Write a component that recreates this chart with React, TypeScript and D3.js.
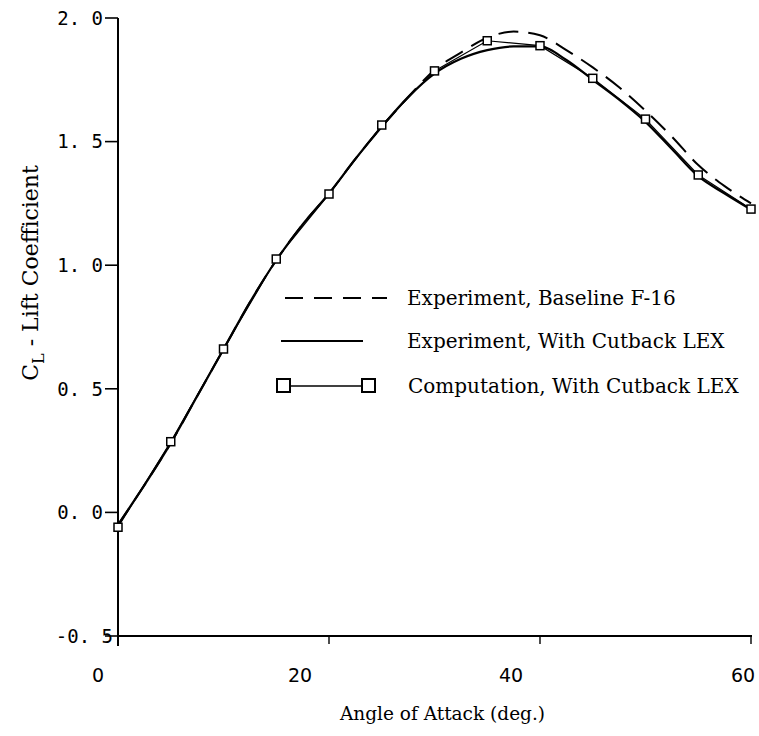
import React from "react";
import * as d3 from "d3";

const W = 759;
const H = 736;

// Computation, With Cutback LEX (square markers)
const compAlpha = [0, 5, 10, 15, 20, 25, 30, 35, 40, 45, 50, 55, 60];
const compCL = [-0.06, 0.286, 0.661, 1.025, 1.288, 1.567, 1.786, 1.908, 1.888, 1.756, 1.591, 1.365, 1.227];

// Experiment, With Cutback LEX (solid)
const expAlpha = [0, 2.5, 5, 7.5, 10, 12.5, 15, 17.5, 20, 22.5, 25, 27.5, 30, 32.5, 35, 37.5, 40, 42.5, 45, 47.5, 50, 52.5, 55, 57.5, 60];
const expCutCL = [-0.05, 0.11, 0.28, 0.47, 0.66, 0.85, 1.02, 1.165, 1.29, 1.43, 1.56, 1.68, 1.775, 1.835, 1.87, 1.885, 1.885, 1.83, 1.75, 1.67, 1.58, 1.47, 1.36, 1.29, 1.225];

// Experiment, Baseline F-16 (dashed)
const expBaseCL = [-0.05, 0.11, 0.28, 0.47, 0.66, 0.85, 1.02, 1.165, 1.29, 1.43, 1.56, 1.68, 1.79, 1.86, 1.92, 1.945, 1.93, 1.87, 1.8, 1.72, 1.625, 1.52, 1.405, 1.32, 1.25];

const yTicks = [2.0, 1.5, 1.0, 0.5, 0.0, -0.5];
const yTickLabels = ["2. 0", "1. 5", "1. 0", "0. 5", "0. 0", "-0. 5"];
const xTicks = [0, 20, 40, 60];
const xTickLabels = ["0", "20", "40", "60"];

const legendLabels = [
  "Experiment, Baseline F-16",
  "Experiment, With Cutback LEX",
  "Computation, With Cutback LEX",
];

export default function App() {
  const x = d3.scaleLinear().domain([0, 60]).range([118, 751]);
  const y = d3.scaleLinear().domain([-0.5, 2.0]).range([636, 18]);

  const solidPath = d3
    .line<number>()
    .x((_, i) => x(expAlpha[i]))
    .y((v) => y(v))
    .curve(d3.curveMonotoneX)(expCutCL) as string;
  const dashedPath = d3
    .line<number>()
    .x((_, i) => x(expAlpha[i]))
    .y((v) => y(v))
    .curve(d3.curveMonotoneX)(expBaseCL) as string;
  const compPath = d3
    .line<number>()
    .x((_, i) => x(compAlpha[i]))
    .y((v) => y(v))(compCL) as string;

  const x0 = x(0);
  const x1 = x(60);
  const yBottom = y(-0.5);
  const yTop = y(2.0);
  const xLabelDx = [-20, -29, -29, -8];

  const serif = "'DejaVu Serif', serif";
  const mono = "'DejaVu Sans Mono', monospace";

  return (
    <svg
      width={W}
      height={H}
      style={{ position: "absolute", left: 0, top: 0, background: "#fff" }}
      viewBox={`0 0 ${W} ${H}`}
    >
      <rect x={0} y={0} width={W} height={H} fill="#fff" />
      {/* axes */}
      <line x1={x0} y1={yTop} x2={x0} y2={yBottom + 10} stroke="#000" strokeWidth={2} />
      <line x1={x0} y1={yBottom} x2={x1 + 1} y2={yBottom} stroke="#000" strokeWidth={2.2} />
      {yTicks.map((t, i) => (
        <g key={"yt" + i}>
          <line x1={x0 - 13} x2={x0} y1={y(t)} y2={y(t)} stroke="#000" strokeWidth={1.6} />
          <text
            x={x0 - 15 + (t === -0.5 ? 10 : 0)}
            y={y(t)}
            dy="0.36em"
            textAnchor="end"
            fontFamily={mono}
            fontSize={19}
            fill="#000"
          >
            {yTickLabels[i]}
          </text>
        </g>
      ))}
      {xTicks.map((t, i) => (
        <g key={"xt" + i}>
          {t > 0 && (
            <line x1={x(t)} x2={x(t)} y1={yBottom} y2={yBottom + 8} stroke="#000" strokeWidth={1.4} />
          )}
          <text
            x={x(t) + xLabelDx[i]}
            y={yBottom + 46}
            textAnchor="middle"
            fontFamily="'DejaVu Sans', sans-serif"
            fontSize={19}
            fill="#000"
          >
            {xTickLabels[i]}
          </text>
        </g>
      ))}

      {/* curves */}
      <path d={dashedPath} fill="none" stroke="#000" strokeWidth={2} strokeDasharray="20 10" />
      <path d={solidPath} fill="none" stroke="#000" strokeWidth={2.2} />
      <path d={compPath} fill="none" stroke="#000" strokeWidth={1.2} />
      {compCL.map((v, i) => (
        <rect
          key={"m" + i}
          x={x(compAlpha[i]) - 4}
          y={y(v) - 4}
          width={8}
          height={8}
          fill="#fff"
          stroke="#000"
          strokeWidth={1.5}
        />
      ))}

      {/* legend */}
      <g fontFamily={serif} fontSize={20} fill="#000">
        <line x1={285} x2={387} y1={298} y2={298} stroke="#000" strokeWidth={2.2} strokeDasharray="18 11" />
        <text x={407} y={305}>{legendLabels[0]}</text>
        <line x1={281} x2={363} y1={341} y2={341} stroke="#000" strokeWidth={2.2} />
        <text x={407} y={348}>{legendLabels[1]}</text>
        <line x1={283} x2={369} y1={386} y2={386} stroke="#000" strokeWidth={1.4} />
        <rect x={277} y={379} width={13} height={13} fill="#fff" stroke="#000" strokeWidth={2} />
        <rect x={362} y={379} width={13} height={13} fill="#fff" stroke="#000" strokeWidth={2} />
        <text x={408} y={393}>{legendLabels[2]}</text>
      </g>

      {/* axis titles */}
      <text
        x={(x0 + x1) / 2 + 8}
        y={720}
        textAnchor="middle"
        fontFamily={serif}
        fontSize={18.5}
        fill="#000"
      >
        Angle of Attack (deg.)
      </text>
      <text
        transform={`translate(38, 273) rotate(-90)`}
        textAnchor="middle"
        fontFamily={serif}
        fontSize={22}
        fill="#000"
      >
        C<tspan fontSize={16} dy={6}>L</tspan>
        <tspan dy={-6}> - Lift Coefficient</tspan>
      </text>
    </svg>
  );
}
